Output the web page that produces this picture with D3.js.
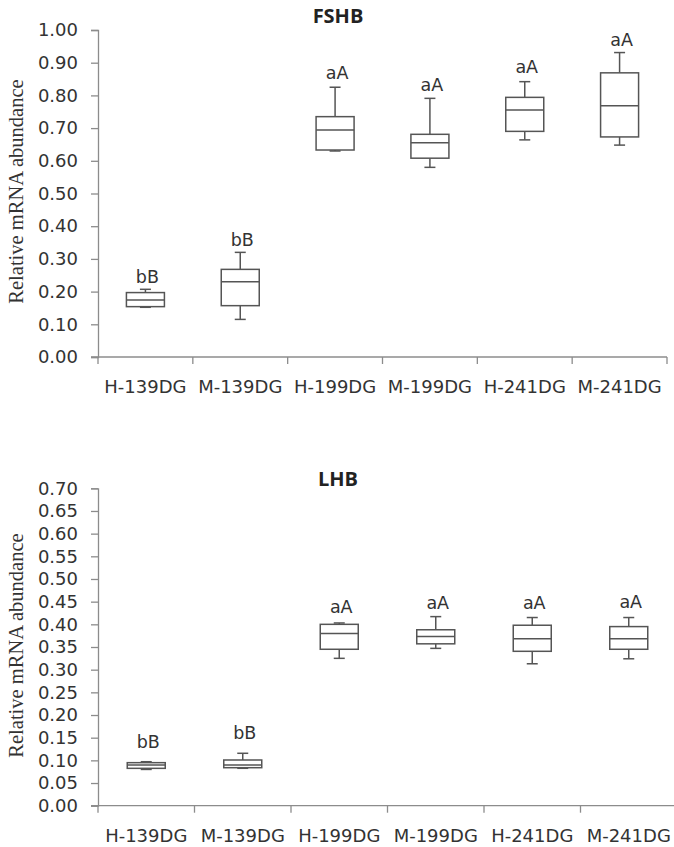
<!DOCTYPE html>
<html><head><meta charset="utf-8">
<script src="https://cdn.jsdelivr.net/npm/d3@7"></script>
<style>
html,body{margin:0;padding:0;background:#fff;}
svg{display:block;}
</style>
</head><body>
<svg id="chart" width="674" height="847"></svg>
<script>
const categories = ["H-139DG","M-139DG","H-199DG","M-199DG","H-241DG","M-241DG"];

// FSHB
const fshbMin    = [0.152, 0.115, 0.630, 0.580, 0.664, 0.648];
const fshbQ1     = [0.154, 0.157, 0.633, 0.608, 0.690, 0.673];
const fshbMedian = [0.174, 0.230, 0.694, 0.655, 0.755, 0.768];
const fshbQ3     = [0.197, 0.268, 0.735, 0.681, 0.794, 0.869];
const fshbMax    = [0.207, 0.320, 0.825, 0.791, 0.842, 0.931];
const fshbLetters = ["bB","bB","aA","aA","aA","aA"];
const fshbLetterY = [0.245, 0.358, 0.869, 0.832, 0.887, 0.969];
const fshbTicks = [0,0.1,0.2,0.3,0.4,0.5,0.6,0.7,0.8,0.9,1.0];

// LHB
const lhbMin    = [0.080, 0.0825, 0.325, 0.347, 0.313, 0.324];
const lhbQ1     = [0.0824, 0.0838, 0.345, 0.357, 0.3405, 0.345];
const lhbMedian = [0.0897, 0.0898, 0.380, 0.373, 0.368, 0.368];
const lhbQ3     = [0.0949, 0.1008, 0.400, 0.388, 0.398, 0.395];
const lhbMax    = [0.097, 0.1156, 0.403, 0.417, 0.415, 0.415];
const lhbLetters = ["bB","bB","aA","aA","aA","aA"];
const lhbLetterY = [0.141, 0.160, 0.439, 0.446, 0.448, 0.450];
const lhbTicks = [0,0.05,0.1,0.15,0.2,0.25,0.3,0.35,0.4,0.45,0.5,0.55,0.6,0.65,0.7];

const svg = d3.select("#chart");
const textColor = "#333";
const axisColor = "#8c8c8c";
const boxColor = "#555";
const labelFont = "'DejaVu Sans', sans-serif";

function drawPanel(cfg) {
  const g = svg.append("g");
  const x = d3.scaleBand().domain(categories).range([cfg.x0, cfg.x1]).padding(0);
  const y = d3.scaleLinear().domain([0, cfg.ymax]).range([cfg.yBottom, cfg.yTop]);

  // y axis
  const ya = g.append("g").attr("transform", `translate(${cfg.x0},0)`)
    .call(d3.axisLeft(y).tickValues(cfg.ticks).tickSize(7).tickPadding(13).tickFormat(d3.format(".2f")));
  ya.select(".domain").attr("stroke", axisColor).attr("stroke-width", 1.3);
  ya.selectAll(".tick line").attr("stroke", axisColor).attr("stroke-width", 1.3);
  ya.selectAll(".tick text").attr("fill", textColor)
    .style("font-family", labelFont).style("font-size", "18px");

  // x axis line
  g.append("line").attr("x1", cfg.x0 - 7).attr("x2", cfg.x1)
    .attr("y1", y(0)).attr("y2", y(0)).attr("stroke", axisColor).attr("stroke-width", 1.3);
  // x ticks at band boundaries
  const bounds = categories.map(c => x(c)).concat([x(categories[categories.length-1]) + x.bandwidth()]);
  g.selectAll(".xtick").data(bounds).enter().append("line")
    .attr("x1", d => d).attr("x2", d => d)
    .attr("y1", y(0)).attr("y2", y(0) + 7)
    .attr("stroke", axisColor).attr("stroke-width", 1.3);
  // x labels
  g.selectAll(".xlab").data(categories).enter().append("text")
    .attr("x", d => x(d) + x.bandwidth()/2)
    .attr("y", y(0) + 36)
    .attr("text-anchor", "middle")
    .attr("fill", textColor)
    .style("font-family", labelFont).style("font-size", "18px")
    .text(d => d);

  // y title
  g.append("text")
    .attr("transform", `translate(16,${cfg.titleY}) rotate(-90)`)
    .attr("text-anchor", "middle").attr("dominant-baseline", "central")
    .attr("fill", textColor)
    .style("font-family", "'Liberation Serif', 'Times New Roman', serif").style("font-size", "20.5px")
    .text("Relative mRNA abundance");

  // chart title
  g.append("text").attr("x", 338).attr("y", cfg.titleBaseline)
    .attr("text-anchor", "middle").attr("fill", "#222")
    .style("font-family", "'Open Sans', sans-serif").style("font-size", "20px").style("font-weight", "bold")
    .text(cfg.title);

  // boxes
  const boxW = 38, capW = 11;
  const data = categories.map((c, i) => ({
    c, min: cfg.min[i], q1: cfg.q1[i], med: cfg.med[i], q3: cfg.q3[i], max: cfg.max[i],
    letter: cfg.letters[i], ly: cfg.letterY[i]
  }));
  const bg = g.selectAll(".box").data(data).enter().append("g");
  const cx = d => x(d.c) + x.bandwidth()/2;
  const lineAttrs = sel => sel.attr("stroke", boxColor).attr("stroke-width", 1.5).attr("fill", "none");
  bg.append("line").attr("x1", cx).attr("x2", cx).attr("y1", d => y(d.q3)).attr("y2", d => y(d.max)).call(lineAttrs);
  bg.append("line").attr("x1", cx).attr("x2", cx).attr("y1", d => y(d.q1)).attr("y2", d => y(d.min)).call(lineAttrs);
  bg.append("line").attr("x1", d => cx(d) - capW/2).attr("x2", d => cx(d) + capW/2)
    .attr("y1", d => y(d.max)).attr("y2", d => y(d.max)).call(lineAttrs);
  bg.append("line").attr("x1", d => cx(d) - capW/2).attr("x2", d => cx(d) + capW/2)
    .attr("y1", d => y(d.min)).attr("y2", d => y(d.min)).call(lineAttrs);
  bg.append("rect").attr("x", d => cx(d) - boxW/2).attr("width", boxW)
    .attr("y", d => y(d.q3)).attr("height", d => y(d.q1) - y(d.q3)).call(lineAttrs).attr("fill", "#fff");
  bg.append("line").attr("x1", d => cx(d) - boxW/2).attr("x2", d => cx(d) + boxW/2)
    .attr("y1", d => y(d.med)).attr("y2", d => y(d.med)).call(lineAttrs);
  bg.append("text").attr("x", d => cx(d) + 2).attr("y", d => y(d.ly))
    .attr("text-anchor", "middle").attr("dominant-baseline", "central")
    .attr("fill", textColor)
    .style("font-family", labelFont).style("font-size", "17.5px")
    .text(d => d.letter);
}

drawPanel({
  title: "FSHB", titleBaseline: 23, titleY: 191.5,
  x0: 98, x1: 667, yTop: 30, yBottom: 357, ymax: 1.0, ticks: fshbTicks,
  min: fshbMin, q1: fshbQ1, med: fshbMedian, q3: fshbQ3, max: fshbMax,
  letters: fshbLetters, letterY: fshbLetterY
});
drawPanel({
  title: "LHB", titleBaseline: 486, titleY: 645.5,
  x0: 98, x1: 677, yTop: 488.3, yBottom: 805.7, ymax: 0.7, ticks: lhbTicks,
  min: lhbMin, q1: lhbQ1, med: lhbMedian, q3: lhbQ3, max: lhbMax,
  letters: lhbLetters, letterY: lhbLetterY
});
</script>
</body></html>
